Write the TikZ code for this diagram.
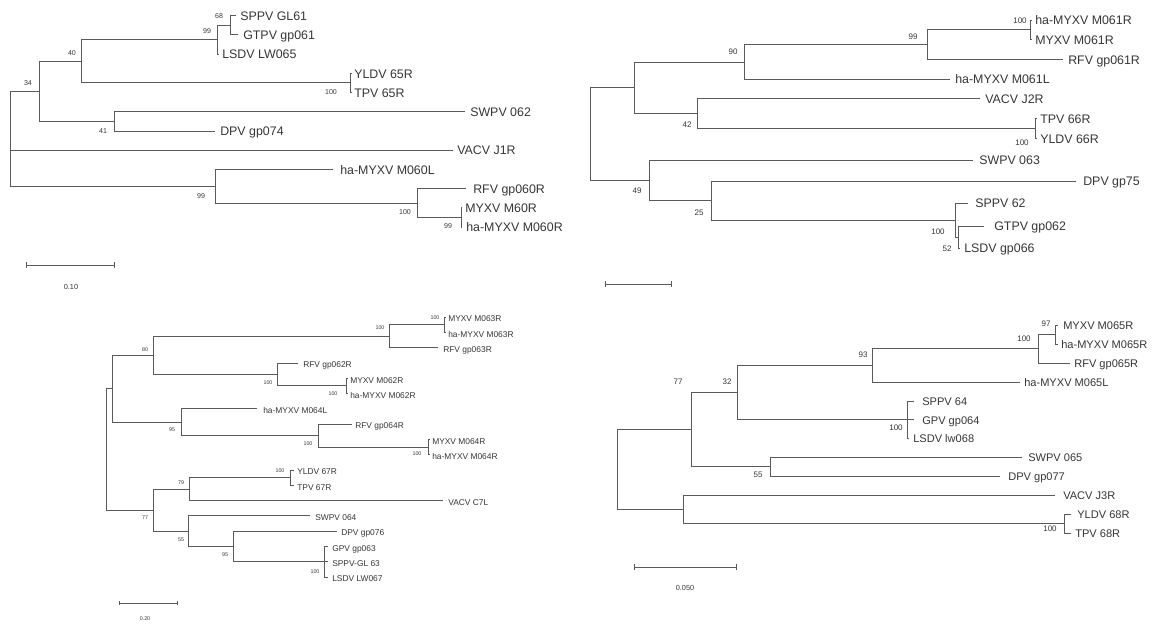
\documentclass[tikz,border=0pt]{standalone}
\usepackage{fontspec}
\setmainfont{Liberation Sans}
\definecolor{ln}{HTML}{5A5A5A}
\definecolor{tx}{HTML}{363636}
\begin{document}
\begin{tikzpicture}[x=0.75pt,y=-0.75pt,
 br/.style={draw=ln,line width=0.55pt},
 lf/.style={anchor=west,inner sep=0pt,text=tx,font=\fontsize{9.3}{10}\selectfont,text height=0.72em,text depth=0pt},
 lf4/.style={lf,font=\fontsize{8.3}{9}\selectfont},
 lfs/.style={lf,font=\fontsize{6.3}{7}\selectfont},
 bs/.style={anchor=center,inner sep=0pt,text=tx,font=\fontsize{6}{7}\selectfont},
 bst/.style={bs,font=\fontsize{5.3}{6}\selectfont},
 bss/.style={bs,font=\fontsize{4}{5}\selectfont},
 sl/.style={anchor=center,inner sep=0pt,text=tx,font=\fontsize{5.5}{6}\selectfont}]
\useasboundingbox (0,0) rectangle (1153,626);

% ================= Tree 1 (top left) =================
\coordinate (r1) at (10,150.1);
\coordinate (n34) at (39,91.25);
\coordinate (n40) at (81,61.2);
\coordinate (n99a) at (217,39.55);
\coordinate (n68) at (230,25.1);
\coordinate (n100a) at (350,82.8);
\coordinate (n41) at (114,121.3);
\coordinate (n99c) at (215,186.15);
\coordinate (n100b) at (417,203);
\coordinate (n99b) at (461,217.4);
\coordinate (a1) at (236,15.5);  \node[lf] (a1t) at (240,15.5) {SPPV GL61};
\coordinate (a2) at (238,34.7);  \node[lf] (a2t) at (243,34.7) {GTPV gp061};
\coordinate (a3) at (219,54);    \node[lf] (a3t) at (222,54) {LSDV LW065};
\coordinate (a4) at (352,73.2);  \node[lf] (a4t) at (354,73.2) {YLDV 65R};
\coordinate (a5) at (352,92.4);  \node[lf] (a5t) at (354,92.4) {TPV 65R};
\coordinate (a6) at (465,111.7); \node[lf] (a6t) at (470,111.7) {SWPV 062};
\coordinate (a7) at (215,130.9); \node[lf] (a7t) at (220,130.9) {DPV gp074};
\coordinate (a8) at (453,150.1); \node[lf] (a8t) at (457,150.1) {VACV J1R};
\coordinate (a9) at (333,169.3); \node[lf] (a9t) at (340,169.3) {ha-MYXV M060L};
\coordinate (a10) at (466,188.6); \node[lf] (a10t) at (473,188.6) {RFV gp060R};
\coordinate (a11) at (462,207.8); \node[lf] (a11t) at (465,207.8) {MYXV M60R};
\coordinate (a12) at (462,227);   \node[lf] (a12t) at (466,227) {ha-MYXV M060R};
\path[br] (r1) |- (n34) (r1) -- (a8) (r1) |- (n99c)
 (n34) |- (n40) (n34) |- (n41)
 (n40) |- (n99a) (n40) |- (n100a)
 (n99a) |- (n68) (n99a) |- (a3)
 (n68) |- (a1) (n68) |- (a2)
 (n100a) |- (a4) (n100a) |- (a5)
 (n41) |- (a6) (n41) |- (a7)
 (n99c) |- (a9) (n99c) |- (n100b)
 (n100b) |- (a10) (n100b) |- (n99b)
 (n99b) |- (a11) (n99b) |- (a12);
\node[bst] (l1a) at (219,16) {68};
\node[bst] (l1b) at (207,31) {99};
\node[bst] (l1c) at (72,53) {40};
\node[bst] (l1d) at (28,83) {34};
\node[bst] (l1e) at (331,92) {100};
\node[bst] (l1f) at (103,131) {41};
\node[bst] (l1g) at (201,196) {99};
\node[bst] (l1h) at (405,212) {100};
\node[bst] (l1i) at (448,226) {99};
\coordinate (s1a) at (26,265); \coordinate (s1b) at (114,265);
\path[br] (s1a) -- (s1b) ([yshift=-2.2pt]s1a) -- ([yshift=2.2pt]s1a) ([yshift=-2.2pt]s1b) -- ([yshift=2.2pt]s1b);
\node[sl] (s1t) at (71,287) {0.10};

% ================= Tree 2 (top right) =================
\coordinate (r2) at (590,132);
\coordinate (mA) at (634,87.7);
\coordinate (m90) at (744,61.9);
\coordinate (m99) at (927,44.6);
\coordinate (m100a) at (1030,29.85);
\coordinate (m42) at (697,113.6);
\coordinate (m100b) at (1035,128.35);
\coordinate (m49) at (649,180);
\coordinate (m25) at (711,200);
\coordinate (m100c) at (955,220);
\coordinate (m52) at (958,237);
\coordinate (b1) at (1032,20);    \node[lf] (b1t) at (1035,20) {ha-MYXV M061R};
\coordinate (b2) at (1032,39.7);  \node[lf] (b2t) at (1035,39.7) {MYXV M061R};
\coordinate (b3) at (1063,59.4);  \node[lf] (b3t) at (1068,59.4) {RFV gp061R};
\coordinate (b4) at (950,79.1);   \node[lf] (b4t) at (955,79.1) {ha-MYXV M061L};
\coordinate (b5) at (980,98.8);   \node[lf] (b5t) at (985,98.8) {VACV J2R};
\coordinate (b6) at (1037,118.5); \node[lf] (b6t) at (1040,118.5) {TPV 66R};
\coordinate (b7) at (1037,138.2); \node[lf] (b7t) at (1040,138.2) {YLDV 66R};
\coordinate (b8) at (973,160);    \node[lf] (b8t) at (979,160) {SWPV 063};
\coordinate (b9) at (1076,181);   \node[lf] (b9t) at (1083,181) {DPV gp75};
\coordinate (b10) at (968,203);   \node[lf] (b10t) at (975,203) {SPPV 62};
\coordinate (b11) at (984,226);   \node[lf] (b11t) at (994,226) {GTPV gp062};
\coordinate (b12) at (960,248);   \node[lf] (b12t) at (964,248) {LSDV gp066};
\path[br] (r2) |- (mA) (r2) |- (m49)
 (mA) |- (m90) (mA) |- (m42)
 (m90) |- (m99) (m90) |- (b4)
 (m99) |- (m100a) (m99) |- (b3)
 (m100a) |- (b1) (m100a) |- (b2)
 (m42) |- (b5) (m42) |- (m100b)
 (m100b) |- (b6) (m100b) |- (b7)
 (m49) |- (b8) (m49) |- (m25)
 (m25) |- (b9) (m25) |- (m100c)
 (m100c) |- (b10) (m100c) |- (m52)
 (m52) |- (b11) (m52) |- (b12);
\node[bs] (l2a) at (1020,21) {100};
\node[bs] (l2b) at (913,37) {99};
\node[bs] (l2c) at (733,52) {90};
\node[bs] (l2d) at (687,125) {42};
\node[bs] (l2e) at (1022,143) {100};
\node[bs] (l2f) at (637,191) {49};
\node[bs] (l2g) at (699,213) {25};
\node[bs] (l2h) at (938,232) {100};
\node[bs] (l2i) at (947,249) {52};
\coordinate (s2a) at (605,284); \coordinate (s2b) at (671,284);
\path[br] (s2a) -- (s2b) ([yshift=-2.2pt]s2a) -- ([yshift=2.2pt]s2a) ([yshift=-2.2pt]s2b) -- ([yshift=2.2pt]s2b);

% ================= Tree 3 (bottom left) =================
\coordinate (r3) at (106,449);
\coordinate (t3X) at (112,388.7);
\coordinate (t3e) at (153,355.25);
\coordinate (t3b) at (389,336.1);
\coordinate (t3a) at (444,324.65);
\coordinate (t3d) at (277,374.4);
\coordinate (t3c) at (346,385.85);
\coordinate (t3h) at (181,422.2);
\coordinate (t3g) at (318,435.55);
\coordinate (t3f) at (428,447);
\coordinate (t3n) at (153,510);
\coordinate (t3j) at (189,489);
\coordinate (t3i) at (290,477.55);
\coordinate (t3m) at (188,531.1);
\coordinate (t3l) at (233,546.4);
\coordinate (t3k) at (324,561.7);
\coordinate (c1) at (446,317);    \node[lfs] (c1t) at (448,317) {MYXV M063R};
\coordinate (c2) at (446,332.3);  \node[lfs] (c2t) at (448,332.3) {ha-MYXV M063R};
\coordinate (c3) at (438,347.6);  \node[lfs] (c3t) at (443,347.6) {RFV gp063R};
\coordinate (c4) at (298,362.9);  \node[lfs] (c4t) at (303,362.9) {RFV gp062R};
\coordinate (c5) at (348,378.2);  \node[lfs] (c5t) at (350,378.2) {MYXV M062R};
\coordinate (c6) at (348,393.5);  \node[lfs] (c6t) at (350,393.5) {ha-MYXV M062R};
\coordinate (c7) at (257,408.8);  \node[lfs] (c7t) at (263,408.8) {ha-MYXV M064L};
\coordinate (c8) at (352,424.1);  \node[lfs] (c8t) at (355,424.1) {RFV gp064R};
\coordinate (c9) at (430,439.4);  \node[lfs] (c9t) at (432,439.4) {MYXV M064R};
\coordinate (c10) at (430,454.6); \node[lfs] (c10t) at (432,454.6) {ha-MYXV M064R};
\coordinate (c11) at (294,469.9); \node[lfs] (c11t) at (297,469.9) {YLDV 67R};
\coordinate (c12) at (294,485.2); \node[lfs] (c12t) at (297,485.2) {TPV 67R};
\coordinate (c13) at (443,500.5); \node[lfs] (c13t) at (448,500.5) {VACV C7L};
\coordinate (c14) at (310,515.8); \node[lfs] (c14t) at (315,515.8) {SWPV 064};
\coordinate (c15) at (337,531.1); \node[lfs] (c15t) at (341,531.1) {DPV gp076};
\coordinate (c16) at (328,546.4); \node[lfs] (c16t) at (332,546.4) {GPV gp063};
\coordinate (c17) at (328,561.7); \node[lfs] (c17t) at (332,561.7) {SPPV-GL 63};
\coordinate (c18) at (328,577);   \node[lfs] (c18t) at (332,577) {LSDV LW067};
\path[br] (r3) |- (t3X) (r3) |- (t3n)
 (t3X) |- (t3e) (t3X) |- (t3h)
 (t3e) |- (t3b) (t3e) |- (t3d)
 (t3b) |- (t3a) (t3b) |- (c3)
 (t3a) |- (c1) (t3a) |- (c2)
 (t3d) |- (c4) (t3d) |- (t3c)
 (t3c) |- (c5) (t3c) |- (c6)
 (t3h) |- (c7) (t3h) |- (t3g)
 (t3g) |- (c8) (t3g) |- (t3f)
 (t3f) |- (c9) (t3f) |- (c10)
 (t3n) |- (t3j) (t3n) |- (t3m)
 (t3j) |- (t3i) (t3j) |- (c13)
 (t3i) |- (c11) (t3i) |- (c12)
 (t3m) |- (c14) (t3m) |- (t3l)
 (t3l) |- (c15) (t3l) |- (t3k)
 (t3k) |- (c16) (t3k) -- (c17) (t3k) |- (c18);
\node[bss] (l3a) at (435,318) {100};
\node[bss] (l3b) at (380,328) {100};
\node[bss] (l3c) at (145,350) {80};
\node[bss] (l3d) at (268,383) {100};
\node[bss] (l3e) at (333,394) {100};
\node[bss] (l3f) at (172,430) {95};
\node[bss] (l3g) at (308,444) {100};
\node[bss] (l3h) at (417,454) {100};
\node[bss] (l3i) at (280,471) {100};
\node[bss] (l3j) at (181,483) {79};
\node[bss] (l3k) at (145,518) {77};
\node[bss] (l3l) at (181,540) {55};
\node[bss] (l3m) at (225,555) {95};
\node[bss] (l3n) at (315,572) {100};
\coordinate (s3a) at (119,603); \coordinate (s3b) at (177,603);
\path[br] (s3a) -- (s3b) ([yshift=-1.8pt]s3a) -- ([yshift=1.8pt]s3a) ([yshift=-1.8pt]s3b) -- ([yshift=1.8pt]s3b);
\node[bss] (s3t) at (145,619) {0.20};

% ================= Tree 4 (bottom right) =================
\coordinate (r4) at (617,469);
\coordinate (p77) at (691,429.5);
\coordinate (p32) at (737,392.5);
\coordinate (p93) at (872,365.4);
\coordinate (p100a) at (1038,348.75);
\coordinate (p97) at (1055,334.5);
\coordinate (p100b) at (907,419.5);
\coordinate (p55) at (770,466.5);
\coordinate (pY) at (683,509);
\coordinate (p100c) at (1064,523.5);
\coordinate (d1) at (1058,325);   \node[lf4] (d1t) at (1063,325) {MYXV M065R};
\coordinate (d2) at (1058,344);   \node[lf4] (d2t) at (1061,344) {ha-MYXV M065R};
\coordinate (d3) at (1070,363);   \node[lf4] (d3t) at (1074,363) {RFV gp065R};
\coordinate (d4) at (1020,382);   \node[lf4] (d4t) at (1024,382) {ha-MYXV M065L};
\coordinate (d5) at (914,401);    \node[lf4] (d5t) at (922,401) {SPPV 64};
\coordinate (d6) at (914,419.5);  \node[lf4] (d6t) at (922,419.5) {GPV gp064};
\coordinate (d7) at (909,438);    \node[lf4] (d7t) at (913,438) {LSDV lw068};
\coordinate (d8) at (1022,457);   \node[lf4] (d8t) at (1028,457) {SWPV 065};
\coordinate (d9) at (1000,476);   \node[lf4] (d9t) at (1008,476) {DPV gp077};
\coordinate (d10) at (1055,495);  \node[lf4] (d10t) at (1063,495) {VACV J3R};
\coordinate (d11) at (1071,514);  \node[lf4] (d11t) at (1077,514) {YLDV 68R};
\coordinate (d12) at (1071,533);  \node[lf4] (d12t) at (1075,533) {TPV 68R};
\path[br] (r4) |- (p77) (r4) |- (pY)
 (p77) |- (p32) (p77) |- (p55)
 (p32) |- (p93) (p32) |- (p100b)
 (p93) |- (p100a) (p93) |- (d4)
 (p100a) |- (p97) (p100a) |- (d3)
 (p97) |- (d1) (p97) |- (d2)
 (p100b) |- (d5) (p100b) -- (d6) (p100b) |- (d7)
 (p55) |- (d8) (p55) |- (d9)
 (pY) |- (d10) (pY) |- (p100c)
 (p100c) |- (d11) (p100c) |- (d12);
\node[bs] (l4a) at (1046,324) {97};
\node[bs] (l4b) at (1024,339) {100};
\node[bs] (l4c) at (863,355) {93};
\node[bs] (l4d) at (727,382) {32};
\node[bs] (l4e) at (678,382) {77};
\node[bs] (l4f) at (896,428) {100};
\node[bs] (l4g) at (758,475) {55};
\node[bs] (l4h) at (1050,529) {100};
\coordinate (s4a) at (634,567); \coordinate (s4b) at (736,567);
\path[br] (s4a) -- (s4b) ([yshift=-2.2pt]s4a) -- ([yshift=2.2pt]s4a) ([yshift=-2.2pt]s4b) -- ([yshift=2.2pt]s4b);
\node[sl] (s4t) at (685,588) {0.050};
\end{tikzpicture}
\end{document}
